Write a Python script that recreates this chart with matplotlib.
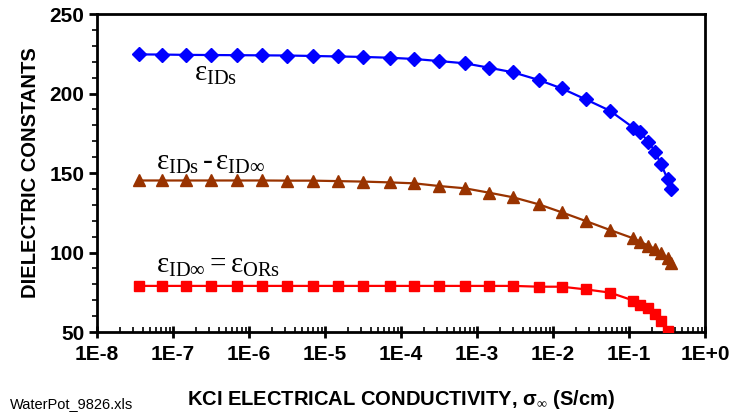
import numpy as np
import matplotlib
matplotlib.use("Agg")
import matplotlib.pyplot as plt
from matplotlib.ticker import LogLocator, MultipleLocator

plt.rcParams['font.family'] = ['Liberation Sans', 'DejaVu Sans']
plt.rcParams['mathtext.fontset'] = 'custom'
plt.rcParams['mathtext.rm'] = 'Liberation Serif'
plt.rcParams['mathtext.it'] = 'Liberation Serif:italic'
plt.rcParams['mathtext.bf'] = 'Liberation Serif:bold'

# KCl conductivity (S/cm)
sigma = [3.6e-8, 7.1e-8, 1.5e-7, 3.2e-7, 7.0e-7, 1.5e-6, 3.2e-6, 7.0e-6, 1.5e-5, 3.2e-5,
         7.1e-5, 1.5e-4, 3.2e-4, 6.9e-4, 1.45e-3, 3.0e-3, 6.5e-3, 1.3e-2, 2.7e-2, 5.6e-2,
         0.114, 0.14, 0.18, 0.22, 0.264, 0.323, 0.357]

eps_ids = [224.6, 224.5, 224.3, 224.2, 224.1, 224.0, 223.9, 223.6, 223.3, 223.0,
           222.5, 221.7, 220.4, 219.0, 216.2, 213.3, 208.5, 203.2, 196.3, 189.2,
           178.5, 175.6, 169.7, 163.4, 155.5, 146.0, 139.7]

eps_diff = [145.3, 145.3, 145.3, 145.3, 145.3, 145.3, 145.2, 145.2, 144.9, 144.6,
            144.1, 143.5, 141.8, 140.4, 137.6, 134.7, 130.3, 125.3, 119.8, 114.2,
            108.9, 106.8, 104.3, 102.2, 99.5, 96.4, 93.5]

eps_inf = [79.0, 79.0, 79.0, 79.0, 79.0, 79.0, 79.0, 79.0, 79.0, 79.0,
           79.0, 79.0, 79.0, 79.0, 79.0, 79.0, 78.5, 78.5, 76.8, 74.8,
           69.8, 67.3, 64.9, 61.2, 57.0, 50.4]

fig = plt.figure(figsize=(7.29, 4.17), dpi=100)
ax = fig.add_axes([0.1331, 0.2038, 0.8340, 0.7626])

ax.plot(sigma, eps_ids, color='#0000FF', lw=1.6, marker='D', ms=7.5, mec='#0000FF', zorder=3)
ax.plot(sigma, eps_diff, color='#993300', lw=1.6, marker='^', ms=8.5, mec='#993300', zorder=3)
ax.plot(sigma[:len(eps_inf)], eps_inf, color='#FF0000', lw=1.6, marker='s', ms=7, mec='#FF0000', zorder=3)

ax.set_xscale('log')
ax.set_xlim(1e-8, 1.0)
ax.set_ylim(50, 250)

ax.xaxis.set_minor_locator(LogLocator(base=10, subs=np.arange(2, 10), numticks=20))
ax.set_xticks([1e-8, 1e-7, 1e-6, 1e-5, 1e-4, 1e-3, 1e-2, 1e-1, 1e0])
ax.set_xticklabels(['1E-8', '1E-7', '1E-6', '1E-5', '1E-4', '1E-3', '1E-2', '1E-1', '1E+0'])
ax.yaxis.set_major_locator(MultipleLocator(50))
ax.yaxis.set_minor_locator(MultipleLocator(10))

ax.tick_params(axis='x', which='major', direction='inout', length=9, width=2, pad=5)
ax.tick_params(axis='x', which='minor', direction='in', length=3.5, width=1.2)
ax.tick_params(axis='y', which='major', direction='out', length=6, width=2, pad=3)
ax.tick_params(axis='y', which='minor', direction='out', length=3.5, width=1.2)
for lab in ax.get_xticklabels() + ax.get_yticklabels():
    lab.set_fontsize(15)
    lab.set_fontweight('bold')

for sp in ax.spines.values():
    sp.set_linewidth(2)

ax.set_ylabel('DIELECTRIC CONSTANTS', fontsize=14.5, fontweight='bold', labelpad=7)
ax.set_xlabel(r'KCI ELECTRICAL CONDUCTIVITY, σ$_{\infty}$ (S/cm)', fontsize=14.5,
              fontweight='bold', labelpad=17)

ax.text(1.9e-7, 208, r'$\mathrm{ε_{IDs}}$', fontsize=21, va='baseline', ha='left')
ax.text(6.0e-8, 152, r'$\mathrm{ε_{IDs}\,‐\,ε_{ID∞}}$', fontsize=21, va='baseline', ha='left')
ax.text(6.0e-8, 87, r'$\mathrm{ε_{ID∞}{=}ε_{ORs}}$', fontsize=21, va='baseline', ha='left')

fig.text(10 / 729, 1 - 404 / 417, 'WaterPot_9826.xls', fontsize=10.5, va='center', ha='left')

fig.savefig('out.png', dpi=100)
